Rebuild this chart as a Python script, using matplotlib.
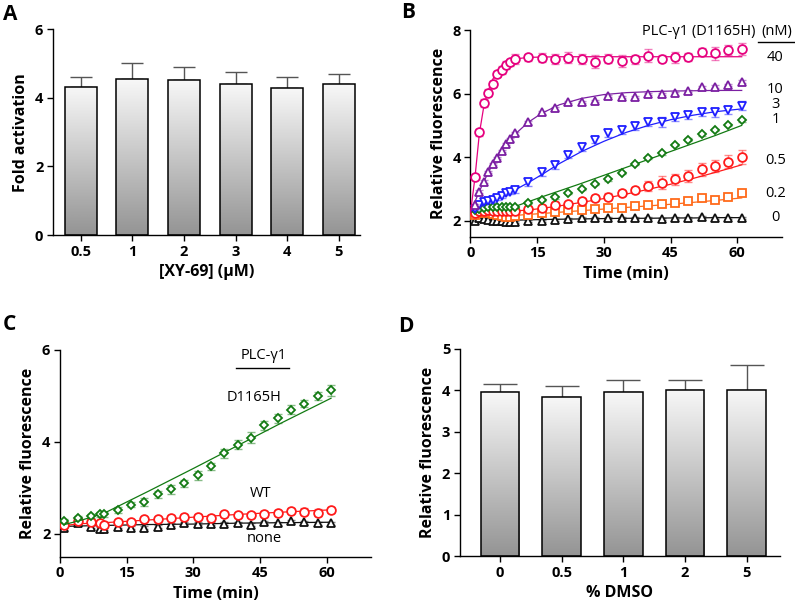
import numpy as np
import matplotlib
matplotlib.use("Agg")
import matplotlib.pyplot as plt

plt.rcParams['font.family'] = ['Open Sans', 'DejaVu Sans']

# ---- panel A ----
a_labels = ["0.5", "1", "2", "3", "4", "5"]
a_vals = [4.33, 4.54, 4.53, 4.41, 4.28, 4.40]
a_err = [0.27, 0.49, 0.36, 0.33, 0.32, 0.30]

# ---- panel B ----
b_t = [1, 2, 3, 4, 5, 6, 7, 8, 9, 10, 13, 16, 19, 22, 25, 28, 31, 34, 37, 40, 43, 46, 49, 52, 55, 58, 61]
b_40 = [3.39, 4.78, 5.71, 6.03, 6.30, 6.62, 6.74, 6.90, 6.98, 7.09, 7.14, 7.13, 7.09, 7.13, 7.09, 7.00, 7.10, 7.03, 7.08, 7.19, 7.10, 7.14, 7.16, 7.32, 7.27, 7.37, 7.40]
b_40e = [0.08, 0.12, 0.12, 0.10, 0.10, 0.10, 0.12, 0.12, 0.12, 0.15, 0.12, 0.15, 0.15, 0.18, 0.15, 0.20, 0.15, 0.18, 0.15, 0.20, 0.12, 0.18, 0.12, 0.12, 0.20, 0.15, 0.18]
b_10 = [2.50, 2.92, 3.23, 3.54, 3.78, 3.97, 4.20, 4.42, 4.56, 4.75, 5.10, 5.41, 5.54, 5.73, 5.73, 5.77, 5.93, 5.90, 5.90, 5.99, 5.99, 6.01, 6.08, 6.20, 6.22, 6.27, 6.38]
b_10e = [0.04] * 27
b_3 = [2.38, 2.50, 2.60, 2.62, 2.65, 2.71, 2.79, 2.86, 2.90, 2.97, 3.21, 3.52, 3.75, 4.07, 4.31, 4.54, 4.75, 4.85, 4.99, 5.10, 5.10, 5.27, 5.33, 5.41, 5.41, 5.48, 5.62]
b_3e = [0.04, 0.04, 0.05, 0.05, 0.05, 0.05, 0.06, 0.06, 0.06, 0.08, 0.10, 0.10, 0.12, 0.10, 0.10, 0.10, 0.10, 0.12, 0.12, 0.12, 0.15, 0.12, 0.12, 0.10, 0.15, 0.12, 0.15]
b_1 = [2.35, 2.38, 2.40, 2.42, 2.42, 2.42, 2.43, 2.44, 2.44, 2.44, 2.57, 2.65, 2.74, 2.88, 3.00, 3.16, 3.30, 3.51, 3.79, 3.97, 4.12, 4.38, 4.55, 4.72, 4.86, 5.01, 5.16]
b_1e = [0.04] * 27
b_05 = [2.25, 2.30, 2.32, 2.33, 2.32, 2.30, 2.30, 2.30, 2.30, 2.30, 2.37, 2.41, 2.50, 2.52, 2.63, 2.71, 2.76, 2.88, 2.97, 3.10, 3.20, 3.30, 3.41, 3.62, 3.72, 3.86, 4.02]
b_05e = [0.04, 0.04, 0.04, 0.05, 0.05, 0.05, 0.05, 0.05, 0.05, 0.06, 0.06, 0.08, 0.10, 0.08, 0.08, 0.10, 0.10, 0.10, 0.10, 0.15, 0.20, 0.18, 0.18, 0.20, 0.18, 0.20, 0.22]
b_02 = [2.18, 2.25, 2.27, 2.25, 2.20, 2.17, 2.15, 2.13, 2.12, 2.15, 2.18, 2.24, 2.29, 2.34, 2.34, 2.37, 2.41, 2.39, 2.47, 2.50, 2.53, 2.57, 2.63, 2.71, 2.65, 2.76, 2.88]
b_02e = [0.04] * 27
b_0 = [2.00, 2.10, 2.07, 2.03, 2.00, 1.99, 1.98, 1.97, 1.97, 1.97, 2.00, 2.00, 2.02, 2.06, 2.08, 2.08, 2.08, 2.08, 2.08, 2.08, 2.05, 2.10, 2.10, 2.11, 2.10, 2.10, 2.10]
b_0e = [0.03] * 27

# fitted curves
bf_t = [0, 1, 2, 3, 4, 5, 6, 7, 8, 10, 13, 16, 20, 25, 30, 35, 40, 45, 50, 55, 61]
bf_40 = [2.25, 3.35, 4.75, 5.60, 6.10, 6.45, 6.70, 6.88, 6.98, 7.09, 7.14, 7.15, 7.16, 7.16, 7.16, 7.16, 7.16, 7.16, 7.16, 7.16, 7.16]
bf_10 = [2.30, 2.60, 2.93, 3.23, 3.52, 3.78, 4.00, 4.20, 4.40, 4.72, 5.10, 5.38, 5.65, 5.85, 5.97, 6.03, 6.06, 6.08, 6.09, 6.10, 6.10]
bf_3 = [2.30, 2.38, 2.45, 2.52, 2.58, 2.64, 2.70, 2.76, 2.83, 2.97, 3.20, 3.45, 3.80, 4.18, 4.50, 4.78, 5.00, 5.18, 5.32, 5.43, 5.52]
bf_1 = [2.28, 2.30, 2.32, 2.34, 2.35, 2.36, 2.37, 2.38, 2.40, 2.45, 2.60, 2.75, 2.94, 3.18, 3.43, 3.68, 3.93, 4.18, 4.43, 4.68, 5.00]
bf_05 = [2.30, 2.30, 2.30, 2.30, 2.30, 2.30, 2.30, 2.30, 2.30, 2.31, 2.34, 2.39, 2.47, 2.58, 2.70, 2.84, 2.99, 3.15, 3.33, 3.52, 3.76]
bf_02 = [2.20, 2.20, 2.19, 2.18, 2.17, 2.16, 2.16, 2.16, 2.16, 2.17, 2.20, 2.23, 2.27, 2.32, 2.37, 2.42, 2.47, 2.52, 2.58, 2.64, 2.72]
bf_0 = [2.10, 2.08, 2.06, 2.05, 2.03, 2.02, 2.02, 2.02, 2.02, 2.02, 2.03, 2.04, 2.05, 2.06, 2.07, 2.08, 2.08, 2.09, 2.09, 2.10, 2.10]
b_conc = ["40", "10", "3", "1", "0.5", "0.2", "0"]
b_conc_y = [7.15, 6.14, 5.66, 5.18, 3.91, 2.87, 2.12]

# ---- panel C ----
c_t = [1, 4, 7, 9, 10, 13, 16, 19, 22, 25, 28, 31, 34, 37, 40, 43, 46, 49, 52, 55, 58, 61]
c_mut = [2.27, 2.35, 2.38, 2.42, 2.42, 2.52, 2.63, 2.69, 2.86, 2.97, 3.10, 3.27, 3.47, 3.75, 3.94, 4.09, 4.36, 4.51, 4.70, 4.83, 5.00, 5.12]
c_mute = [0.04, 0.04, 0.04, 0.05, 0.05, 0.06, 0.05, 0.08, 0.08, 0.10, 0.08, 0.10, 0.08, 0.10, 0.10, 0.12, 0.10, 0.10, 0.10, 0.08, 0.08, 0.12]
c_wt = [2.20, 2.27, 2.25, 2.23, 2.20, 2.25, 2.25, 2.32, 2.32, 2.35, 2.37, 2.37, 2.35, 2.42, 2.40, 2.40, 2.43, 2.45, 2.50, 2.48, 2.46, 2.52]
c_wte = [0.03, 0.04, 0.04, 0.04, 0.04, 0.04, 0.04, 0.05, 0.05, 0.05, 0.05, 0.05, 0.05, 0.06, 0.05, 0.05, 0.06, 0.06, 0.05, 0.08, 0.08, 0.06]
c_none = [2.12, 2.23, 2.15, 2.11, 2.11, 2.15, 2.13, 2.13, 2.15, 2.20, 2.23, 2.22, 2.22, 2.22, 2.23, 2.20, 2.25, 2.23, 2.27, 2.25, 2.23, 2.23]
c_nonee = [0.03] * 22
cf_t = [1, 5, 10, 20, 30, 40, 50, 61]
cf_mut = [2.20, 2.30, 2.45, 2.93, 3.42, 3.92, 4.42, 4.95]
cf_wt = [2.18, 2.22, 2.24, 2.30, 2.36, 2.42, 2.47, 2.52]
cf_none = [2.16, 2.17, 2.18, 2.20, 2.21, 2.23, 2.24, 2.25]

# ---- panel D ----
d_labels = ["0", "0.5", "1", "2", "5"]
d_vals = [3.95, 3.85, 3.95, 4.01, 4.02]
d_err = [0.20, 0.26, 0.29, 0.23, 0.59]

TICKFONT = dict(fontsize=10.5, fontweight='bold')
LABFONT = dict(fontsize=11.5, fontweight='bold')
NOTE = 10.5

fig = plt.figure(figsize=(7.95, 6.09), dpi=100)


def style(ax):
    for s in ('top', 'right'):
        ax.spines[s].set_visible(False)
    for s in ('left', 'bottom'):
        ax.spines[s].set_linewidth(1.0)
    ax.tick_params(direction='out', length=4, width=1.0, pad=3)
    for lab in ax.get_xticklabels() + ax.get_yticklabels():
        lab.set_fontsize(TICKFONT['fontsize'])
        lab.set_fontweight(TICKFONT['fontweight'])


def gradient_bars(ax, vals, errs, width, capsize):
    x = np.arange(len(vals))
    bars = ax.bar(x, vals, width=width, color='none', edgecolor='black', linewidth=1.1, zorder=3)
    grad = np.linspace(0.97, 0.58, 256).reshape(-1, 1)
    for b in bars:
        x0, y0 = b.get_x(), b.get_y()
        im = ax.imshow(grad, cmap='gray', vmin=0, vmax=1, aspect='auto',
                       extent=[x0, x0 + b.get_width(), y0, y0 + b.get_height()],
                       origin='upper', zorder=2, interpolation='bicubic')
        im.set_clip_path(b)
    ax.errorbar(x, vals, yerr=[np.zeros(len(vals)), errs], fmt='none', ecolor='#555555',
                elinewidth=1.0, capsize=capsize, capthick=1.0, zorder=1)
    return x


# A
axA = fig.add_axes([0.0667, 0.614, 0.386, 0.338])
xa = gradient_bars(axA, a_vals, a_err, 0.62, 8)
axA.set_xlim(-0.54, 5.41)
axA.set_ylim(0, 6)
axA.set_yticks([0, 2, 4, 6])
axA.set_xticks(xa)
axA.set_xticklabels(a_labels)
axA.set_ylabel("Fold activation", **LABFONT)
axA.set_xlabel("[XY-69] (\u03bcM)", **LABFONT)
style(axA)

# B
axB = fig.add_axes([0.5918, 0.6113, 0.3915, 0.3394])
series_B = [
    (b_40, b_40e, bf_40, '#e6007e', 'o', 6.3),
    (b_10, b_10e, bf_10, '#7b1fa2', '^', 5.8),
    (b_3, b_3e, bf_3, '#1f1fff', 'v', 5.8),
    (b_1, b_1e, bf_1, '#127a12', 'D', 4.0),
    (b_05, b_05e, bf_05, '#ff1a1a', 'o', 6.3),
    (b_02, b_02e, bf_02, '#ff6a1a', 's', 5.6),
    (b_0, b_0e, bf_0, '#111111', '^', 5.3),
]
for k, (y, e, yf, c, m, ms) in enumerate(series_B[::-1]):
    axB.plot(bf_t, yf, color=c, lw=0.9, zorder=2 + k)
    axB.errorbar(b_t, y, yerr=e, fmt='none', ecolor=c, alpha=0.5, elinewidth=1.0,
                 capsize=3, capthick=1.0, zorder=2 + k)
    axB.plot(b_t, y, ls='none', marker=m, ms=ms, mfc='white', mec=c, mew=1.3, zorder=3 + k)
axB.set_xlim(0, 70)
axB.set_ylim(1.5, 8)
axB.set_xticks([0, 15, 30, 45, 60])
axB.set_yticks([2, 4, 6, 8])
axB.set_xlabel("Time (min)", **LABFONT)
axB.set_ylabel("Relative fluorescence", **LABFONT)
style(axB)
axB.text(64.1, 7.94, "PLC-\u03b31 (D1165H)", ha='right', va='center', fontsize=NOTE, clip_on=False)
axB.text(68.9, 7.94, "(nM)", ha='center', va='center', fontsize=NOTE, clip_on=False)
axB.plot([64.6, 72.9], [7.62, 7.62], color='black', lw=1.0, clip_on=False)
for lab, yy in zip(b_conc, b_conc_y):
    axB.text(68.6, yy, lab, ha='center', va='center', fontsize=NOTE, clip_on=False)

# C
axC = fig.add_axes([0.0755, 0.0859, 0.3912, 0.3394])
series_C = [
    (c_none, c_nonee, cf_none, '#111111', '^', 5.3),
    (c_wt, c_wte, cf_wt, '#ff1a1a', 'o', 6.3),
    (c_mut, c_mute, cf_mut, '#127a12', 'D', 4.0),
]
for k, (y, e, yf, c, m, ms) in enumerate(series_C):
    axC.plot(cf_t, yf, color=c, lw=0.9, zorder=2 + k)
    axC.errorbar(c_t, y, yerr=e, fmt='none', ecolor=c, alpha=0.5, elinewidth=1.0,
                 capsize=3, capthick=1.0, zorder=2 + k)
    axC.plot(c_t, y, ls='none', marker=m, ms=ms, mfc='white', mec=c, mew=1.3, zorder=3 + k)
axC.set_xlim(0, 70)
axC.set_ylim(1.5, 6)
axC.set_xticks([0, 15, 30, 45, 60])
axC.set_yticks([2, 4, 6])
axC.set_xlabel("Time (min)", **LABFONT)
axC.set_ylabel("Relative fluorescence", **LABFONT)
style(axC)
axC.text(45.9, 5.89, "PLC-\u03b31", ha='center', va='center', fontsize=NOTE)
axC.plot([39.6, 51.5], [5.61, 5.61], color='black', lw=1.0)
axC.text(43.6, 4.97, "D1165H", ha='center', va='center', fontsize=NOTE)
axC.text(45.2, 2.88, "WT", ha='center', va='center', fontsize=NOTE)
axC.text(45.9, 1.90, "none", ha='center', va='center', fontsize=NOTE)

# D
axD = fig.add_axes([0.5786, 0.087, 0.4025, 0.340])
xd = gradient_bars(axD, d_vals, d_err, 0.63, 12)
axD.set_xlim(-0.65, 4.54)
axD.set_ylim(0, 5)
axD.set_yticks([0, 1, 2, 3, 4, 5])
axD.set_xticks(xd)
axD.set_xticklabels(d_labels)
axD.set_ylabel("Relative fluorescence", **LABFONT)
axD.set_xlabel("% DMSO", **LABFONT)
style(axD)

for lab, px, py in [("A", 3, 14), ("B", 401, 13), ("C", 3, 325), ("D", 398, 326)]:
    fig.text(px / 795, 1 - py / 609, lab, fontsize=15, fontweight='bold', ha='left', va='center')

fig.savefig("out.png", dpi=100)
